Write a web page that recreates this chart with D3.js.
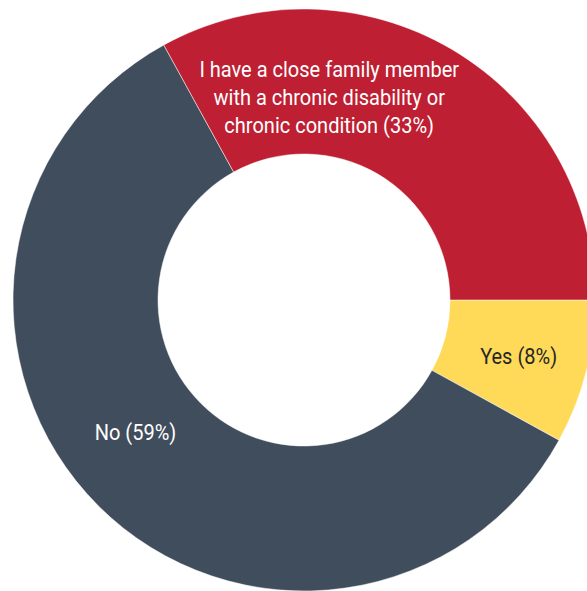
<!DOCTYPE html>
<html><head><meta charset="utf-8">
<script src="https://cdn.jsdelivr.net/npm/d3@7"></script>
<style>body{margin:0;background:#fff;overflow:hidden}</style></head>
<body><svg id="c" width="587" height="591"></svg>
<script>
// Survey answers, in drawing order (clockwise from 3 o'clock)
const categories = ["Yes", "No", "I have a close family member with a chronic disability or chronic condition"];
const values = [8, 59, 33];
const labelLines = [
  ["Yes (8%)"],
  ["No (59%)"],
  ["I have a close family member", "with a chronic disability or", "chronic condition (33%)"]
];

const colors = ["#FEDA58", "#404D5C", "#BE1F32"];
const textColors = ["#262626", "#ffffff", "#ffffff"];
// nudges of each label away from its slice centroid
const labelNudge = [[3, 2], [-14, -23], [-86, -15]];

const width = 587, height = 591;
const cx = 304, cy = 300;
const outerR = 291, innerR = 146;

const svg = d3.select("#c");
const g = svg.append("g").attr("transform", `translate(${cx},${cy})`);

const pie = d3.pie().sort(null)
  .startAngle(Math.PI / 2)
  .endAngle(Math.PI / 2 + 2 * Math.PI);
const arc = d3.arc().innerRadius(innerR).outerRadius(outerR);

const slices = pie(values);

g.selectAll("path.slice")
  .data(slices)
  .join("path")
  .attr("class", "slice")
  .attr("d", arc)
  .attr("fill", (d, i) => colors[i])
  .attr("stroke", "#ffffff")
  .attr("stroke-width", 0.5);

const fontSize = 22.5, lineH = 28, squeeze = 0.89;

const labels = g.selectAll("g.label")
  .data(slices)
  .join("g")
  .attr("class", "label")
  .attr("transform", (d, i) => {
    const [x, y] = arc.centroid(d);
    return `translate(${x + labelNudge[i][0]},${y + labelNudge[i][1]}) scale(${squeeze},1)`;
  });

labels.each(function (d, i) {
  const lines = labelLines[i];
  const t = d3.select(this).append("text")
    .attr("text-anchor", "middle")
    .style("font-family", "Roboto")
    .style("font-size", fontSize + "px")
    .attr("fill", textColors[i]);
  const first = -(lines.length - 1) / 2 * lineH + fontSize * 0.36;
  lines.forEach((s, k) => {
    t.append("tspan").attr("x", 0).attr("y", first + k * lineH).text(s);
  });
});
</script></body></html>
